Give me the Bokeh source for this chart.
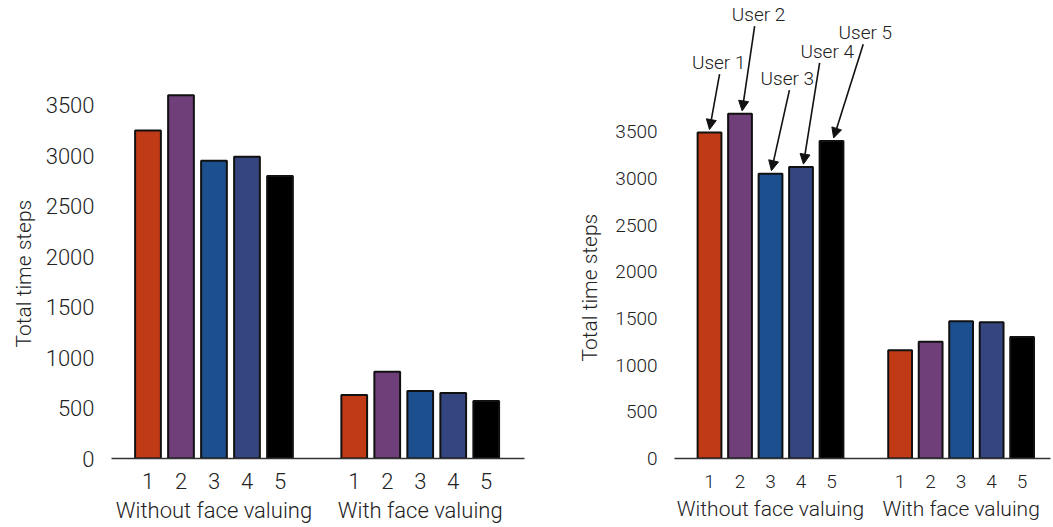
import math
from bokeh.plotting import figure
from bokeh.layouts import row
from bokeh.models import (ColumnDataSource, FixedTicker, LinearAxis, Range1d,
                          Label, Arrow, NormalHead, Title)
from bokeh.embed import file_html
from bokeh.resources import INLINE

# ---------------- data ----------------
users = ["1", "2", "3", "4", "5"]
groups = ["Without face valuing", "With face valuing"]
colors = ["#C03A16", "#6E3F78", "#1B4F8D", "#35457F", "#000000"]

left_without = [3250, 3600, 2950, 2990, 2800]
left_with = [630, 860, 670, 650, 570]

right_without = [3490, 3690, 3050, 3120, 3400]
right_with = [1160, 1250, 1470, 1460, 1300]

user_labels = ["User 1", "User 2", "User 3", "User 4", "User 5"]
y_ticks = [0, 500, 1000, 1500, 2000, 2500, 3000, 3500]
y_title = "Total time steps"

# ---------------- layout ----------------
FONT = "Roboto Light"
TEXT = "#222222"
GROUP_OFFSET = 6.25
H = 527
B_TOP = 0
B_BOTTOM = 69


def make_panel(without_vals, with_vals, width, border_left, border_right, x_range,
               px_per_val, fs_tick, fs_group, fs_title, num_standoff, group_standoff,
               title_standoff, title_offset):
    xs = [i for i in range(len(users))] + [i + GROUP_OFFSET for i in range(len(users))]
    tops = list(without_vals) + list(with_vals)
    src = ColumnDataSource(dict(x=xs, top=tops, color=colors + colors))

    frame_h = H - B_TOP - B_BOTTOM
    p = figure(width=width, height=H, output_backend="svg", toolbar_location=None,
               x_range=Range1d(*x_range), y_range=Range1d(0, frame_h / px_per_val),
               min_border_left=border_left, min_border_bottom=B_BOTTOM,
               min_border_top=B_TOP, min_border_right=border_right,
               x_axis_location=None, y_axis_location=None)
    p.outline_line_color = None
    p.xgrid.visible = False
    p.ygrid.visible = False

    p.vbar(x="x", top="top", bottom=0, width=0.78, fill_color="color",
           line_color="#111111", line_width=2, source=src)

    yax = LinearAxis(ticker=FixedTicker(ticks=y_ticks))
    yax.axis_line_color = None
    yax.major_tick_line_color = None
    yax.major_tick_out = 0
    yax.minor_tick_line_color = None
    yax.major_label_text_font = FONT
    yax.major_label_text_font_size = f"{fs_tick}px"
    yax.major_label_text_color = TEXT
    yax.major_label_standoff = 17
    p.add_layout(yax, "left")

    p.add_layout(Title(text=y_title, align="left", offset=title_offset,
                       standoff=title_standoff, text_font=FONT,
                       text_font_style="normal", text_font_size=f"{fs_title}px",
                       text_color=TEXT), "left")

    xax = LinearAxis(ticker=FixedTicker(ticks=xs))
    xax.major_label_overrides = {x: u for x, u in zip(xs, users + users)}
    xax.axis_line_color = "#333333"
    xax.axis_line_width = 1.5
    xax.major_tick_line_color = None
    xax.major_tick_out = 0
    xax.minor_tick_line_color = None
    xax.major_label_text_font = FONT
    xax.major_label_text_font_size = f"{fs_tick}px"
    xax.major_label_text_color = TEXT
    xax.major_label_standoff = num_standoff
    p.add_layout(xax, "below")

    centers = [2, 2 + GROUP_OFFSET]
    gax = LinearAxis(ticker=FixedTicker(ticks=centers))
    gax.major_label_overrides = {c: g for c, g in zip(centers, groups)}
    gax.axis_line_color = None
    gax.major_tick_line_color = None
    gax.major_tick_out = 0
    gax.minor_tick_line_color = None
    gax.major_label_text_font = FONT
    gax.major_label_text_font_size = f"{fs_group}px"
    gax.major_label_text_color = TEXT
    gax.major_label_standoff = group_standoff
    p.add_layout(gax, "below")
    return p


left = make_panel(left_without, left_with, width=538, border_left=111, border_right=14,
                  x_range=(-1.106, 11.41), px_per_val=0.1009,
                  fs_tick=22, fs_group=22, fs_title=21,
                  num_standoff=14, group_standoff=6,
                  title_standoff=13, title_offset=111)

R_PX_Y = 0.0934
right = make_panel(right_without, right_with, width=515, border_left=136, border_right=3,
                   x_range=(-1.148, 11.18), px_per_val=R_PX_Y,
                   fs_tick=19, fs_group=21, fs_title=21,
                   num_standoff=16, group_standoff=6,
                   title_standoff=21, title_offset=97)

# user annotations (layout positions in data units)
label_x = [0.30, 1.61, 2.55, 3.86, 5.11]
label_y = [4240, 4754, 4069, 4361, 4561]
tail_x = [0.33, 1.48, 2.62, 3.61, 5.04]
tip_dx = [0.0, 0.07, 0.03, 0.08, 0.07]
for i, txt in enumerate(user_labels):
    right.add_layout(Label(x=label_x[i], y=label_y[i], text=txt,
                           text_align="center", text_baseline="middle",
                           text_font=FONT, text_font_size="19px", text_color=TEXT))
    right.add_layout(Arrow(x_start=tail_x[i], y_start=label_y[i] - 125,
                           x_end=i + tip_dx[i], y_end=right_without[i] + 32,
                           line_width=1.6, line_color="#111111",
                           end=NormalHead(size=10, fill_color="#111111",
                                          line_color="#111111")))

layout = row(left, right)
open("out.html", "w").write(file_html(layout, INLINE))
